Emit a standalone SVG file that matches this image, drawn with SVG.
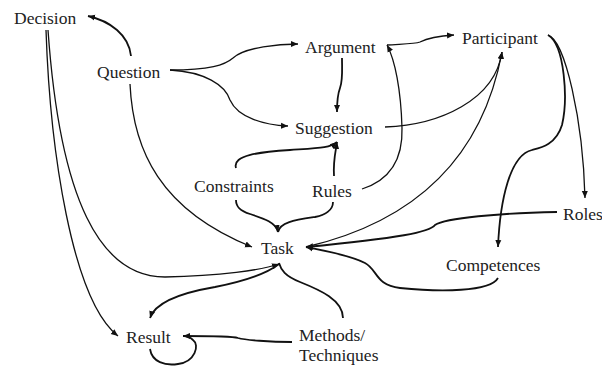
<svg xmlns="http://www.w3.org/2000/svg" width="602" height="367" viewBox="0 0 602 367">
<style>
text{font-family:"Liberation Serif","DejaVu Serif",serif;font-size:17.5px;fill:#222}
.c{fill:none;stroke:#111;stroke-width:1.3}
.b{fill:none;stroke:#111;stroke-width:1.8}
</style>
<defs>
<marker id="a" markerUnits="userSpaceOnUse" markerWidth="8" markerHeight="8" refX="7" refY="4" orient="auto">
<path d="M0,1 L7,4 L0,7 Z" fill="#111"/>
</marker>
</defs>
<rect width="602" height="367" fill="#fff"/>
<g id="connectors">
<path class="b" d="M131,56 C129,35 110,21 88,16" marker-end="url(#a)"/>
<path class="c" d="M46,30 C50,150 72,300 118,336" marker-end="url(#a)"/>
<path class="c" d="M48,30 C60,200 100,277 165,277 C220,276 262,270 279,264" marker-end="url(#a)"/>
<path class="c" d="M170,70 C210,70 225,65 233,58 C245,47 280,44 298,44" marker-end="url(#a)"/>
<path class="c" d="M170,70 C205,72 225,85 230,100 C238,118 265,125 288,126" marker-end="url(#a)"/>
<path class="b" d="M342,58 C342,70 343,80 340,88 C337,96 337,104 337,112" marker-end="url(#a)"/>
<path class="c" d="M387,45 C400,44 415,44 420,42 C428,38 440,36 454,35" marker-end="url(#a)"/>
<path class="c" d="M362,189 C390,180 403,160 402,128 C401,90 395,60 387,45" marker-end="url(#a)"/>
<path class="c" d="M385,127 C440,125 495,100 502,52" marker-end="url(#a)"/>
<path class="c" d="M306,247 C400,225 480,170 502,52" marker-end="url(#a)"/>
<path class="c" d="M548,35 C565,40 583,120 585,198" marker-end="url(#a)"/>
<path class="b" d="M548,35 C565,45 568,100 562,125 C556,145 540,148 532,150 C510,155 500,200 498,247" marker-end="url(#a)"/>
<path class="b" d="M557,212 C500,213 445,218 435,225 C430,232 400,238 306,247" marker-end="url(#a)"/>
<path class="b" d="M498,278 C490,292 440,292 400,288 C375,285 378,270 365,263 C350,255 320,250 306,247" marker-end="url(#a)"/>
<path class="b" d="M236,168 C232,155 260,152 290,150 C320,148 330,148 337,142" marker-end="url(#a)"/>
<path class="b" d="M334,176 C333,160 336,150 337,142" marker-end="url(#a)"/>
<path class="b" d="M236,200 C236,207 240,211 250,214 C262,218 276,222 278,232" marker-end="url(#a)"/>
<path class="b" d="M333,202 C333,210 325,215 315,217 C295,220 280,222 278,232"/>
<path class="c" d="M130,84 C133,150 160,210 252,247" marker-end="url(#a)"/>
<path class="b" d="M343,318 C343,300 320,290 300,282 C285,276 281,270 279,263"/>
<path class="b" d="M279,264 C265,275 240,282 215,287 C180,293 155,303 150,318" marker-end="url(#a)"/>
<path class="b" d="M292,342 C270,342 245,340 238,338 C232,336 215,336 183,336" marker-end="url(#a)"/>
<path class="b" d="M150,349 C152,362 165,366 178,364 C195,362 200,345 193,340 C190,337 188,336 184,336"/>
</g>
<g id="Decision"><text x="14" y="24">Decision</text></g>
<g id="Question"><text x="97" y="78">Question</text></g>
<g id="Argument"><text x="305" y="53">Argument</text></g>
<g id="Participant"><text x="462" y="44">Participant</text></g>
<g id="Suggestion"><text x="295" y="134">Suggestion</text></g>
<g id="Constraints"><text x="194" y="192">Constraints</text></g>
<g id="Rules"><text x="312" y="197">Rules</text></g>
<g id="Roles"><text x="563" y="220">Roles</text></g>
<g id="Task"><text x="261" y="254">Task</text></g>
<g id="Competences"><text x="446" y="271">Competences</text></g>
<g id="Result"><text x="126" y="343">Result</text></g>
<g id="Methods"><text x="299" y="341">Methods/</text><text x="299" y="361">Techniques</text></g>
</svg>
